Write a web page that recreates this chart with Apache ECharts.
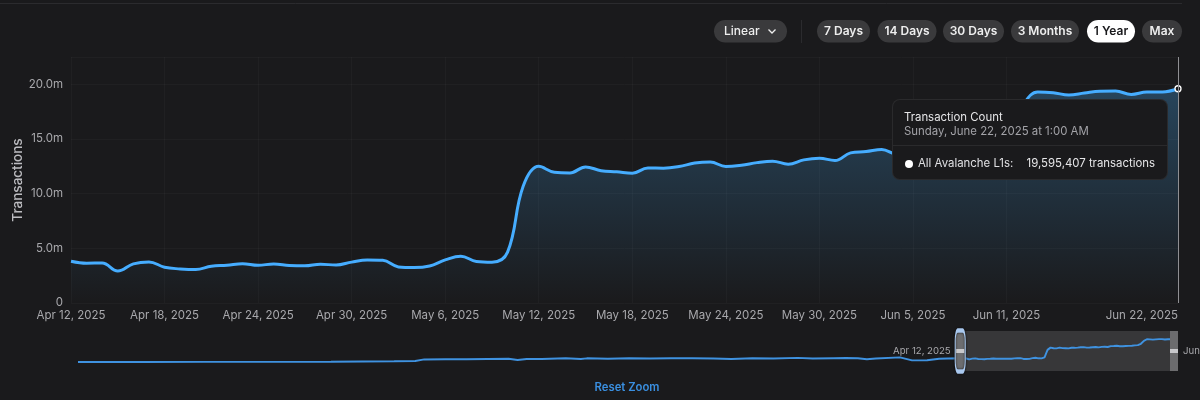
<!DOCTYPE html>
<html><head><meta charset="utf-8">
<style>html,body{margin:0;padding:0;background:#1a1a1c;overflow:hidden}#c{width:1200px;height:400px}</style>
<script src="https://cdn.jsdelivr.net/npm/echarts@6/dist/echarts.min.js"></script>
</head><body><div id="c"></div>
<script>
// --- data ---
const yTicks = [0, 5, 10, 15, 20];
const seriesName = 'All Avalanche L1s';
const tooltipTitle = 'Transaction Count';
const tooltipDate = 'Sunday, June 22, 2025 at 1:00 AM';
const tooltipValue = '19,595,407 transactions';
const scaleOptions = ['Linear'];
const rangeOptions = ['7 Days', '14 Days', '30 Days', '3 Months', '1 Year', 'Max'];
const activeRange = '1 Year';
const resetLabel = 'Reset Zoom';
const axisTitle = 'Transactions';

const days = [
 '2025-04-12','2025-04-13','2025-04-14','2025-04-15','2025-04-16','2025-04-17','2025-04-18','2025-04-19','2025-04-20','2025-04-21',
 '2025-04-22','2025-04-23','2025-04-24','2025-04-25','2025-04-26','2025-04-27','2025-04-28','2025-04-29','2025-04-30','2025-05-01',
 '2025-05-02','2025-05-03','2025-05-04','2025-05-05','2025-05-06','2025-05-07','2025-05-08','2025-05-09','2025-05-10','2025-05-11',
 '2025-05-12','2025-05-13','2025-05-14','2025-05-15','2025-05-16','2025-05-17','2025-05-18','2025-05-19','2025-05-20','2025-05-21',
 '2025-05-22','2025-05-23','2025-05-24','2025-05-25','2025-05-26','2025-05-27','2025-05-28','2025-05-29','2025-05-30','2025-05-31',
 '2025-06-01','2025-06-02','2025-06-03','2025-06-04','2025-06-05','2025-06-06','2025-06-07','2025-06-08','2025-06-09','2025-06-10',
 '2025-06-11','2025-06-12','2025-06-13','2025-06-14','2025-06-15','2025-06-16','2025-06-17','2025-06-18','2025-06-19','2025-06-20',
 '2025-06-21','2025-06-22'];
const dailyTx = [
 3.82,3.64,3.66,2.92,3.58,3.76,3.27,3.12,3.06,3.36,
 3.45,3.60,3.45,3.57,3.44,3.40,3.55,3.47,3.74,3.93,
 3.90,3.30,3.24,3.39,3.94,4.28,3.80,3.73,4.65,10.67,
 12.50,11.96,11.90,12.45,12.10,12.00,11.87,12.35,12.33,12.48,
 12.80,12.90,12.48,12.60,12.84,12.97,12.70,13.09,13.24,13.03,
 13.73,13.85,14.04,13.60,13.65,13.80,13.95,14.05,14.30,14.50,
 15.60,18.00,19.30,19.23,19.02,19.20,19.36,19.38,19.08,19.30,
 19.30,19.595];
// overview strip, dates before the zoom window
const historyDays = [
 '2024-06-23','2024-07-14','2024-08-04','2024-08-25','2024-09-15','2024-10-06','2024-10-13','2024-10-16','2024-10-23','2024-10-30',
 '2024-11-06','2024-11-13','2024-11-16','2024-11-19','2024-11-24','2024-12-02','2024-12-07','2024-12-09','2024-12-16','2024-12-23',
 '2024-12-30','2025-01-06','2025-01-13','2025-01-20','2025-01-26','2025-02-02','2025-02-09','2025-02-17','2025-02-22','2025-03-01',
 '2025-03-05','2025-03-09','2025-03-12','2025-03-15','2025-03-23','2025-03-27','2025-04-01','2025-04-05','2025-04-08'];
const historyTx = [
 0.8,0.85,0.9,0.95,1.05,1.4,1.6,2.9,3.1,3.0,
 3.3,3.5,2.4,3.3,3.2,3.9,3.2,3.8,3.5,3.9,
 3.6,3.8,3.9,3.7,3.2,3.8,3.7,4.2,3.6,3.9,
 4.1,3.9,3.0,3.7,4.6,2.1,2.2,3.4,3.7];

// --- helpers ---
const mon = ['Jan','Feb','Mar','Apr','May','Jun','Jul','Aug','Sep','Oct','Nov','Dec'];
const fmtDay = s => { const p = s.split('-'); return mon[+p[1]-1] + ' ' + (+p[2]) + ', ' + p[0]; };
const lastIdx = days.length - 1;
const showTick = i => (i <= 60 && i % 6 === 0) || i === lastIdx;
const FONT = 'Inter, "Noto Sans", sans-serif';
const BLUE = '#409ef2';
const BG = '#1a1a1c';
const overview = historyDays.map((d,i)=>[d,historyTx[i]]).concat(days.map((d,i)=>[d,dailyTx[i]]));
const windowStart = days[0], windowEnd = days[lastIdx];
const handleMid = 9.75;

// --- page furniture layout ---
const pillBoxes = [[817,53],[877.5,59],[943,61],[1011,68],[1087,48],[1142,40]];
function pill(x, w, label, active) {
  return [
    {type:'rect', shape:{x, y:20, width:w, height:22.5, r:11.25}, style:{fill: active ? '#ffffff' : '#3a3a3c'}},
    {type:'text', x:x+w/2, y:31.5, style:{text:label, fill: active ? '#18181b' : '#eeeeee', font:'600 12px '+FONT, align:'center', verticalAlign:'middle'}}
  ];
}
const graphic = [
  {type:'line', shape:{x1:0,y1:3.5,x2:1182,y2:3.5}, style:{stroke:'#2b2b2e', lineWidth:1}},
  {type:'line', shape:{x1:801.5,y1:20,x2:801.5,y2:43}, style:{stroke:'#2b2b2e', lineWidth:1}},
  {type:'rect', shape:{x:714, y:20, width:73, height:22.5, r:11.25}, style:{fill:'#3a3a3c'}},
  {type:'text', x:724, y:31, style:{text:scaleOptions[0], fill:'#eeeeee', font:'500 12px '+FONT, align:'left', verticalAlign:'middle'}},
  {type:'polyline', shape:{points:[[768.5,29.5],[772,33],[775.5,29.5]]}, style:{stroke:'#eeeeee', lineWidth:1.3, fill:'none'}},
  {type:'text', x:627, y:387.5, style:{text:resetLabel, fill:'#3a8fe0', font:'600 11.3px '+FONT, align:'center', verticalAlign:'middle'}}
];
rangeOptions.forEach((r,i)=>graphic.push(...pill(pillBoxes[i][0], pillBoxes[i][1], r, r===activeRange)));

const chart = echarts.init(document.getElementById('c'), null, {renderer:'canvas'});
chart.setOption({
  animation:false,
  backgroundColor:BG,
  textStyle:{fontFamily:FONT},
  graphic:{elements:graphic},
  grid:[
    {left:71, right:22, top:57, height:246, outerBoundsMode:'none'},
    {left:78, right:26, top:331, height:40, outerBoundsMode:'none'}
  ],
  xAxis:[
    {type:'category', data:days, boundaryGap:false, gridIndex:0,
     axisLine:{show:false}, axisTick:{show:false},
     splitLine:{show:true, interval:(i)=>showTick(i), lineStyle:{color:'rgba(255,255,255,0.028)'}},
     axisLabel:{interval:(i)=>showTick(i), formatter:fmtDay, color:'#a8a8ac', fontSize:11.5, margin:6.5, alignMaxLabel:'right', showMaxLabel:true, hideOverlap:false},
     axisPointer:{show:true, type:'line', snap:true, label:{show:false}, lineStyle:{color:'#8f8f93', width:1, type:'solid'}}},
    {type:'time', gridIndex:1, min:historyDays[0], max:windowEnd, show:false, axisPointer:{show:false}}
  ],
  yAxis:[
    {type:'value', gridIndex:0, min:0, max:22.5, interval:5,
     name:axisTitle, nameLocation:'middle', nameGap:46, nameMoveOverlap:false, nameTextStyle:{color:'#bcbcc0', fontSize:13.5, fontWeight:500},
     axisLine:{show:false}, axisTick:{show:false},
     splitLine:{lineStyle:{color:'rgba(255,255,255,0.028)'}},
     axisLabel:{color:'#a8a8ac', fontSize:11.5, margin:8, showMaxLabel:false, formatter:v=> yTicks.includes(v) ? (v===0 ? '0' : v.toFixed(1)+'m') : ''}},
    {type:'value', gridIndex:1, min:-6.5, max:26, show:false}
  ],
  tooltip:{
    trigger:'axis', alwaysShowContent:true, padding:0, borderWidth:0, backgroundColor:'transparent',
    transitionDuration:0, confine:false, position:[892,99], axisPointer:{type:'line'},
    extraCssText:'box-shadow:none;',
    formatter:()=>`<div style="width:276px;height:81px;box-sizing:border-box;background:#1a1a1c;border:1px solid rgba(255,255,255,.07);border-radius:8px;font-family:Inter,'Noto Sans',sans-serif;font-size:11.4px;line-height:13.5px;">
      <div style="padding:11px 11px 0 11px;height:34px;border-bottom:1px solid rgba(255,255,255,.07);">
        <div style="color:#e6e6e8;">${tooltipTitle}</div><div style="color:#a3a3a8;">${tooltipDate}</div></div>
      <div style="display:flex;align-items:center;padding:11px 12px 0 12px;">
        <span style="width:8px;height:8px;border-radius:50%;background:#fff;margin-right:5px;"></span>
        <span style="color:#e0e0e3;flex:1;">${seriesName}:</span><span style="color:#e6e6e8;">${tooltipValue}</span></div></div>`
  },
  series:[
    {name:seriesName, type:'line', xAxisIndex:0, yAxisIndex:0, data:dailyTx, smooth:0.4,
     showSymbol:false, symbol:'circle', symbolSize:6,
     lineStyle:{color:BLUE, width:3},
     itemStyle:{color:BG, borderColor:'#ffffff', borderWidth:1.3},
     emphasis:{scale:1, itemStyle:{color:BG, borderColor:'#ffffff', borderWidth:1.3}, lineStyle:{width:3}},
     areaStyle:{color:new echarts.graphic.LinearGradient(0,0,0,1,[
       {offset:0,color:'rgba(66,162,245,0.40)'},{offset:1,color:'rgba(66,162,245,0)'}])}},
    {name:'overview', type:'line', xAxisIndex:1, yAxisIndex:1, data:overview, showSymbol:false, silent:true,
     tooltip:{show:false}, lineStyle:{color:'#3f92e0', width:1.9}, itemStyle:{color:'#3f92e0'},
     markArea:{silent:true, itemStyle:{color:'rgba(255,255,255,0.13)'}, data:[[{xAxis:windowStart},{xAxis:windowEnd}]]},
     markPoint:{silent:true, animation:false, data:[
       {coord:[windowStart,handleMid], symbol:'roundRect', symbolSize:[10,41],
        itemStyle:{color:'#6c6d70', borderColor:'#a9c8ee', borderWidth:2.2, shadowColor:'#0a0a0c', shadowBlur:2},
        label:{show:true, position:'left', distance:4, formatter:fmtDay(windowStart), color:'#a8a8ac', fontSize:9.6}},
       {coord:[windowStart,handleMid], symbol:'rect', symbolSize:[8,4], itemStyle:{color:'#c8c8cb'}, label:{show:false}},
       {coord:[windowEnd,handleMid], symbol:'rect', symbolSize:[8,40],
        itemStyle:{color:'#6c6c6e'},
        label:{show:true, position:'right', distance:5, formatter:fmtDay(windowEnd), color:'#a8a8ac', fontSize:9.6}},
       {coord:[windowEnd,handleMid], symbol:'rect', symbolSize:[8,4], itemStyle:{color:'#c8c8cb'}, label:{show:false}}
     ]}}
  ]
});
chart.dispatchAction({type:'showTip', seriesIndex:0, dataIndex:lastIdx});
</script></body></html>
